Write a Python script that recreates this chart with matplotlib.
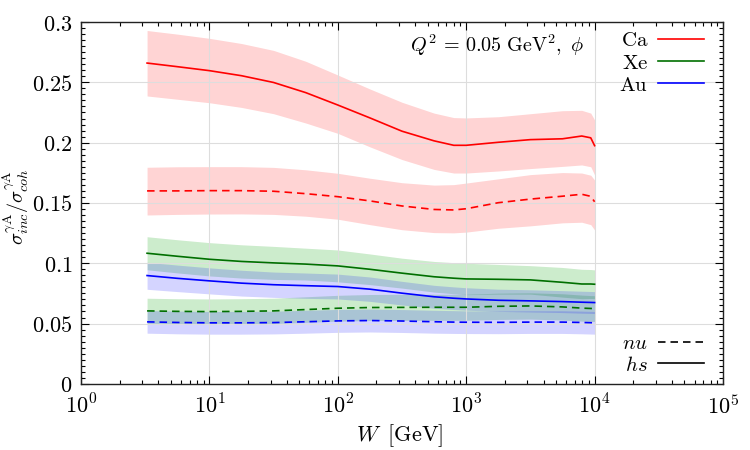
import numpy as np
import matplotlib
matplotlib.use('Agg')
import matplotlib.pyplot as plt
from matplotlib.ticker import FuncFormatter, MultipleLocator, LogLocator, NullFormatter
from matplotlib.lines import Line2D

plt.rcParams['mathtext.fontset'] = 'cm'
plt.rcParams['font.family'] = ['DejaVu Serif']

# W values (GeV) at which the curves are sampled
W = [3.27, 5.62, 10.0, 17.8, 31.6, 56.2, 100, 178, 316, 562, 800, 1000,
     1778, 3162, 5623, 7943, 9333, 10000]

# Ca
ca_hs = [0.266, 0.263, 0.2597, 0.2555, 0.2499, 0.2415, 0.2312, 0.2205, 0.2095, 0.2015, 0.1978, 0.1978,
         0.2003, 0.2025, 0.2032, 0.2055, 0.204, 0.1975]
ca_hs_up = [0.293, 0.290, 0.2865, 0.2822, 0.2765, 0.2675, 0.2561, 0.2445, 0.2335, 0.2245, 0.2208, 0.2205,
            0.2215, 0.224, 0.2265, 0.2268, 0.2245, 0.2188]
ca_hs_lo = [0.2387, 0.236, 0.2331, 0.2292, 0.224, 0.2163, 0.2077, 0.1965, 0.186, 0.1778, 0.1748, 0.1748,
            0.1765, 0.1785, 0.1803, 0.1815, 0.180, 0.1732]
ca_nu = [0.160, 0.160, 0.1602, 0.1602, 0.1597, 0.1577, 0.1552, 0.1517, 0.1475, 0.1446, 0.1442, 0.1452,
         0.1502, 0.1532, 0.1556, 0.1572, 0.1555, 0.151]
ca_nu_up = [0.1796, 0.180, 0.1801, 0.1801, 0.1795, 0.1775, 0.1746, 0.1705, 0.1668, 0.1648, 0.1652, 0.1665,
            0.170, 0.1735, 0.1752, 0.1748, 0.173, 0.169]
ca_nu_lo = [0.140, 0.1405, 0.1408, 0.1409, 0.1405, 0.139, 0.1365, 0.132, 0.1278, 0.1254, 0.1252, 0.1258,
            0.129, 0.131, 0.1335, 0.134, 0.132, 0.1276]

# Xe
xe_hs = [0.1083, 0.1058, 0.1033, 0.1015, 0.1003, 0.0993, 0.0978, 0.095, 0.0918, 0.0888, 0.0876, 0.087,
         0.0867, 0.0862, 0.0842, 0.0828, 0.0828, 0.0826]
xe_hs_up = [0.122, 0.1195, 0.1171, 0.1153, 0.114, 0.1125, 0.111, 0.1077, 0.1042, 0.1015, 0.1005, 0.100,
            0.099, 0.098, 0.0965, 0.095, 0.0948, 0.0945]
xe_hs_lo = [0.0946, 0.092, 0.0895, 0.0877, 0.0866, 0.0861, 0.0846, 0.0823, 0.0794, 0.0761, 0.0747, 0.074,
            0.0744, 0.0744, 0.0719, 0.0706, 0.0708, 0.0707]
xe_nu = [0.0605, 0.0601, 0.0599, 0.0601, 0.0605, 0.0616, 0.0627, 0.0633, 0.0634, 0.0635, 0.0635, 0.0635,
         0.0643, 0.0646, 0.0638, 0.0628, 0.0625, 0.0624]
xe_nu_up = [0.071, 0.0706, 0.0704, 0.0706, 0.071, 0.0722, 0.0734, 0.0741, 0.0742, 0.0743, 0.0743, 0.0743,
            0.0752, 0.0755, 0.0747, 0.0736, 0.0732, 0.0731]
xe_nu_lo = [0.0500, 0.0496, 0.0494, 0.0496, 0.050, 0.051, 0.052, 0.0525, 0.0526, 0.0527, 0.0527, 0.0527,
            0.0534, 0.0537, 0.0529, 0.052, 0.0518, 0.0517]

# Au
au_hs = [0.0898, 0.0875, 0.0854, 0.0835, 0.0822, 0.0814, 0.0807, 0.0785, 0.0752, 0.0722, 0.0710, 0.0704,
         0.0693, 0.0688, 0.0682, 0.0677, 0.0675, 0.0674]
au_hs_up = [0.1008, 0.0985, 0.0962, 0.0942, 0.0927, 0.0919, 0.091, 0.0886, 0.085, 0.0817, 0.0804, 0.0797,
            0.0785, 0.078, 0.0773, 0.0768, 0.0766, 0.0765]
au_hs_lo = [0.0784, 0.0765, 0.0746, 0.0728, 0.0717, 0.0709, 0.0704, 0.0684, 0.0654, 0.0627, 0.0616, 0.0611,
            0.0601, 0.0596, 0.0591, 0.0586, 0.0584, 0.0583]
au_nu = [0.0514, 0.0509, 0.0506, 0.0506, 0.0508, 0.0515, 0.0522, 0.0525, 0.0521, 0.0515, 0.0512, 0.0511,
         0.051, 0.0512, 0.0512, 0.0509, 0.0507, 0.0506]
au_nu_up = [0.0608, 0.0603, 0.060, 0.060, 0.0602, 0.061, 0.0617, 0.062, 0.0616, 0.061, 0.0607, 0.0605,
            0.0604, 0.0606, 0.0606, 0.0603, 0.0601, 0.060]
au_nu_lo = [0.042, 0.0415, 0.0412, 0.0412, 0.0414, 0.042, 0.0427, 0.043, 0.0426, 0.042, 0.0418, 0.0417,
            0.0416, 0.0418, 0.0418, 0.0415, 0.0413, 0.0412]

nuclei = [
    ('Ca', '#ff0000', 0.17, ca_hs, ca_hs_up, ca_hs_lo, ca_nu, ca_nu_up, ca_nu_lo),
    ('Xe', '#006f00', 0.2, xe_hs, xe_hs_up, xe_hs_lo, xe_nu, xe_nu_up, xe_nu_lo),
    ('Au', '#0000ff', 0.17, au_hs, au_hs_up, au_hs_lo, au_nu, au_nu_up, au_nu_lo),
]

fig = plt.figure(figsize=(7.5, 4.5), dpi=100)
ax = fig.add_axes([0.108, 0.147, 0.856, 0.804])

dash = (0, (4.5, 3))
for name, col, a, hs, hs_up, hs_lo, nu, nu_up, nu_lo in nuclei:
    fcol = '#00a000' if name == 'Xe' else col
    ax.fill_between(W, hs_lo, hs_up, color=fcol, alpha=a, lw=0)
    ax.fill_between(W, nu_lo, nu_up, color=fcol, alpha=a, lw=0)
for name, col, a, hs, hs_up, hs_lo, nu, nu_up, nu_lo in nuclei:
    ax.plot(W, hs, color=col, lw=1.2)
    ax.plot(W, nu, color=col, lw=1.2, linestyle=dash)

ax.set_xscale('log')
ax.set_xlim(1, 1e5)
ax.set_ylim(0, 0.3)
ax.yaxis.set_major_locator(MultipleLocator(0.05))
ax.yaxis.set_minor_locator(MultipleLocator(0.005))
ax.xaxis.set_major_locator(LogLocator(base=10, numticks=10))
ax.xaxis.set_minor_locator(LogLocator(base=10, subs=np.arange(2, 10), numticks=20))
ax.xaxis.set_minor_formatter(NullFormatter())
ax.yaxis.set_major_formatter(FuncFormatter(lambda v, p: r'$%g$' % round(v, 3)))
ax.xaxis.set_major_formatter(FuncFormatter(lambda v, p: r'$10^{%d}$' % round(np.log10(v))))
ax.tick_params(which='both', direction='in', top=True, right=True, labelsize=16, width=0.8)
ax.tick_params(which='major', length=6, pad=6)
ax.tick_params(axis='x', which='major', pad=8)
ax.tick_params(which='minor', length=3)
ax.grid(True, which='major', color='#dddddd', lw=0.8)
for s in ax.spines.values():
    s.set_linewidth(1.0)
    s.set_color('#222222')

ax.set_xlabel(r'$W\;\;[\mathrm{GeV}]$', fontsize=16)
ax.xaxis.set_label_coords(0.497, -0.105)
ax.set_ylabel(r'$\sigma^{\gamma \mathrm{A}}_{inc}/\sigma^{\gamma \mathrm{A}}_{coh}$', fontsize=14.5)
ax.yaxis.set_label_coords(-0.078, 0.49)

ax.text(0.785, 0.935, r'$Q^2\,=\,0.05\ \mathrm{GeV}^2,\ \phi$', transform=ax.transAxes,
        ha='right', va='center', fontsize=14.5)

h1 = [Line2D([], [], color=c, lw=1.2) for _, c, *rest in nuclei]
leg1 = ax.legend(h1, [r'$\mathrm{%s}$' % n for n, *rest in nuclei], loc='upper right',
                 bbox_to_anchor=(1.0, 1.026), frameon=False, markerfirst=False,
                 fontsize=15, handlelength=2.2, labelspacing=0.15, handletextpad=0.5)
ax.add_artist(leg1)
h2 = [Line2D([], [], color='black', lw=1.2, linestyle=dash),
      Line2D([], [], color='black', lw=1.2)]
ax.legend(h2, [r'$nu$', r'$hs$'], loc='lower right', bbox_to_anchor=(1.0, -0.026),
          frameon=False, markerfirst=False, fontsize=15, handlelength=2.2,
          labelspacing=0.1, handletextpad=0.5)

fig.savefig('out.png', dpi=100)
